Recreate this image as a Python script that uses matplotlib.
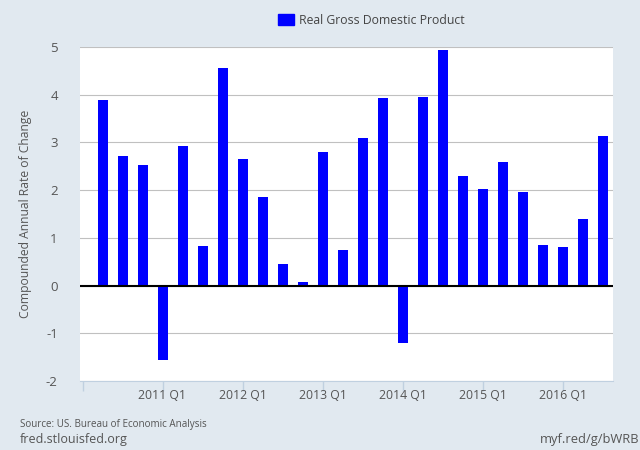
import matplotlib
matplotlib.use("Agg")
import matplotlib.pyplot as plt
from matplotlib.patches import Patch

plt.rcParams['font.family'] = ['Open Sans', 'DejaVu Sans']

series_name = "Real Gross Domestic Product"
values = [3.88, 2.72, 2.53, -1.55, 2.93, 0.83, 4.57, 2.65, 1.86, 0.45, 0.08, 2.8, 0.75,
          3.1, 3.93, -1.2, 3.95, 4.93, 2.3, 2.03, 2.6, 1.96, 0.85, 0.81, 1.4, 3.14]
quarter_index = list(range(1, 27))
year_tick_pos = [0, 4, 8, 12, 16, 20, 24]
year_tick_labels = ["", "2011 Q1", "2012 Q1", "2013 Q1", "2014 Q1", "2015 Q1", "2016 Q1"]
y_ticks = [-2, -1, 0, 1, 2, 3, 4, 5]

BG = "#e1e9f0"
GRID = "#c0c0c0"
TXT = "#555555"

fig = plt.figure(figsize=(6.4, 4.5), dpi=100, facecolor=BG)
ax = fig.add_axes([80/640, 1-381/450, (613-80)/640, (381-47)/450], facecolor="white")
ax.bar(quarter_index, values, width=0.5, color="#0000ff", zorder=3)
ax.axhline(0, color="black", lw=1.5, zorder=4)
ax.set_xlim(-0.125, 26.525)
ax.set_ylim(-2, 5)
ax.set_yticks(y_ticks)
ax.set_yticklabels([str(v) for v in y_ticks], fontsize=9.5, color=TXT)
ax.set_xticks(year_tick_pos)
ax.set_xticklabels(year_tick_labels, fontsize=8.8, color=TXT)
ax.tick_params(axis='y', length=0, pad=16)
ax.tick_params(axis='x', length=7, width=1, color="#c0d0e0", pad=-1)
for lab in ax.get_yticklabels():
    lab.set_ha('right')
ax.grid(axis='y', color=GRID, lw=0.8, zorder=1)
for s in ['top', 'right', 'left']:
    ax.spines[s].set_visible(False)
ax.spines['bottom'].set_color("#c0d0e0")
ax.set_axisbelow(True)

fig.text(25.5/640, 1-214/450, "Compounded Annual Rate of Change", rotation=90,
         fontsize=8.7, color=TXT, ha='center', va='center')
fig.legend(handles=[Patch(color="#0000ff", label=series_name)], loc='center',
           bbox_to_anchor=(371.5/640, 1-20/450), frameon=False, fontsize=8.8,
           labelcolor="#444444", handlelength=1.3, handleheight=0.95, handletextpad=0.4)
fig.text(20/640, 1-424/450, "Source: US. Bureau of Economic Analysis", fontsize=7.1,
         color=TXT, ha='left', va='center')
fig.text(20/640, 1-440/450, "fred.stlouisfed.org", fontsize=9, color=TXT, ha='left', va='center')
fig.text(639/640, 1-440/450, "myf.red/g/bWRB", fontsize=9.3, color=TXT, ha='right', va='center')
fig.savefig("out.png", dpi=100, facecolor=BG)
